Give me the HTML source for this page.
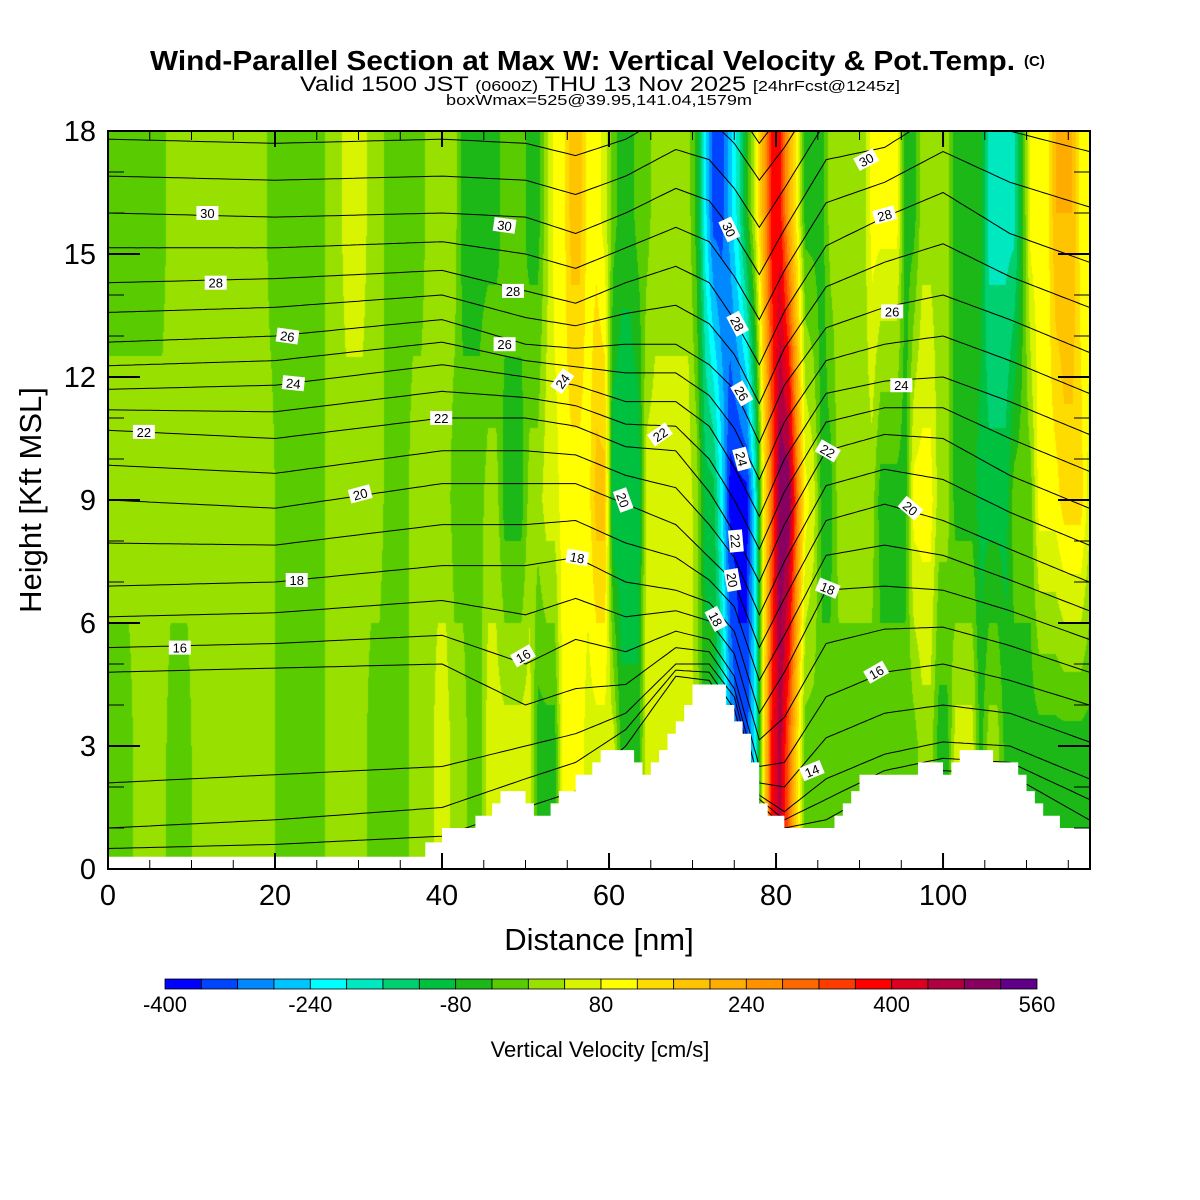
<!DOCTYPE html>
<html><head><meta charset="utf-8">
<style>
html,body{margin:0;padding:0;background:#fff;}
#wrap{position:relative;width:1200px;height:1200px;overflow:hidden;}
#field{position:absolute;left:108px;top:131px;}
svg{position:absolute;left:0;top:0;}
text{font-family:"Liberation Sans",sans-serif;}
</style></head>
<body>
<div id="wrap">
<canvas id="field" width="982" height="738"></canvas>
<svg id="svg" width="1200" height="1200"></svg>
</div>
<script>
// ---- data ----
const binEdges = [-400,-360,-320,-280,-240,-200,-160,-120,-80,-40,0,40,80,120,160,200,240,280,320,360,400,440,480,520,560];
const binColors = ["#0000ff","#0044ff","#0088ff","#00c4ff","#00ffff","#00e8c0","#00d070","#00c040","#1cb818","#58cc00","#98e000","#d8f400","#ffff00","#ffdc00","#ffc400","#ffac00","#ff9000","#ff6800","#ff3c00","#ff0000","#dc0020","#b00040","#880060","#600088"];
const cbTickLabels = [-400,-240,-80,80,240,400,560];
const rowHeights = [3,9,16];
function expand(spec){const a=[];spec.forEach(s=>{for(let i=0;i<s[0];i++)a.push(s[1]);});return a;}
const wLow = expand([[3,-20],[4,20],[3,-20],[10,20],[6,-20],[5,20],[5,-20],[3,20],[2,60],[2,20],[2,-20],[6,60],[3,-60],[3,100],[4,60],[3,-60],[6,60],[1,20],[2,-60],[1,-140],[1,-260],[2,-340],[1,-220],[1,100],[1,380],[1,460],[1,300],[1,140],[7,-20],[7,-20],[2,20],[2,-60],[3,60],[1,-60],[2,20],[11,-60]]);
const wMid = expand([[20,20],[6,-20],[7,20],[3,-20],[5,20],[4,-20],[2,20],[3,-60],[2,20],[2,60],[4,100],[2,180],[4,-120],[6,60],[1,20],[2,-100],[1,-220],[3,-380],[1,-220],[1,100],[1,300],[2,520],[1,300],[1,100],[1,60],[2,-60],[5,20],[4,-60],[3,100],[2,20],[3,-60],[4,-100],[3,-20],[3,100],[3,140],[1,60]]);
const wHigh = expand([[7,-20],[12,20],[7,-20],[2,20],[3,60],[2,20],[5,-20],[4,20],[5,-60],[3,-20],[2,-60],[1,20],[2,100],[2,180],[2,100],[1,60],[1,-20],[2,-60],[2,-20],[5,20],[1,-60],[1,-220],[2,-340],[1,-260],[1,-180],[1,-60],[1,60],[1,220],[2,380],[1,220],[1,100],[3,-60],[5,20],[4,100],[2,-60],[4,20],[4,-60],[4,-180],[1,-60],[3,100],[3,200],[2,100]]);
const terrain = expand([[38,0.3],[2,0.65],[4,1.0],[2,1.3],[1,1.6],[3,1.9],[1,1.6],[2,1.3],[1,1.6],[2,1.9],[2,2.3],[1,2.6],[4,2.9],[1,2.6],[1,2.3],[1,2.6],[1,2.9],[1,3.3],[1,3.6],[1,4.0],[4,4.5],[1,4.0],[1,3.6],[1,3.3],[1,2.6],[1,1.6],[2,1.3],[6,1.0],[1,1.3],[1,1.6],[1,1.9],[7,2.3],[3,2.6],[1,2.3],[1,2.6],[4,2.9],[3,2.6],[1,2.3],[1,1.9],[1,1.6],[2,1.3],[4,1.0]]);
const thetaNodesX = [0,20,40,50,56,62,68,72,75,78,81,86,93,100,108,117.5];
const thetaLevels = [12,13,14,15,16,18,20,22,24,26,28,30,32];
const th12=[0.5,0.6,0.8,1.5,1.9,3.0,4.7,4.6,3.6,1.6,1.0,1.2,2.0,2.4,2.3,1.2];
const th13=[1.0,1.2,1.5,2.2,2.6,3.4,4.85,4.8,3.9,1.7,1.2,1.7,2.4,2.7,2.6,1.7];
const th14=[2.1,2.3,2.5,3.0,3.3,3.8,5.0,5.0,4.2,1.8,1.4,2.2,2.8,3.1,3.0,2.2];
const th15=[4.8,4.9,5.0,4.0,4.4,4.5,5.4,5.3,4.4,2.1,2.0,3.2,3.8,4.0,3.8,3.1];
const th16=[5.4,5.5,5.7,5.0,5.6,5.3,5.8,5.6,4.7,2.5,2.6,4.2,4.8,5.0,4.6,4.0];
const th18=[6.9,7.0,7.4,7.4,7.6,7.0,6.8,6.5,5.8,3.8,4.8,6.8,6.9,6.8,6.3,5.6];
const th20=[9.0,8.8,9.4,9.4,9.4,8.9,8.4,7.6,7.0,5.4,6.6,8.5,8.9,8.5,7.8,7.0];
const th22=[10.7,10.5,11.0,11.0,10.8,10.3,10.2,9.2,8.2,7.0,8.4,10.2,10.6,10.5,9.6,8.8];
const th24=[11.7,11.8,12.3,12.0,11.8,11.4,11.4,10.8,9.8,8.6,10.0,11.6,11.9,12.0,11.4,10.6];
const th26=[12.85,13.0,13.4,12.8,12.7,12.8,12.8,12.3,11.7,10.4,11.8,13.2,13.7,14.0,13.4,12.6];
const th28=[14.3,14.4,14.6,14.1,13.8,14.3,14.7,14.3,13.4,12.3,13.6,15.2,15.9,16.5,15.5,14.8];
const th30=[16.0,15.9,16.0,15.9,15.5,16.0,16.6,16.3,15.5,14.5,15.6,17.3,17.6,18.5,18.0,17.5];
const th32=[17.8,17.7,17.8,17.7,17.4,17.8,18.5,18.3,17.7,16.8,17.6,19.2,19.5,20,19.8,19.5];
const labelText = ["30","28","26","24","22","22","20","18","16","30","28","26","24","22","20","18","16","30","28","26","24","22","20","18","14","18","22","20","16","24","26","28","30"];
const labelDist = [11.9,12.9,21.5,22.2,4.3,39.9,30.2,22.6,8.6,47.5,48.5,47.5,54.4,66.1,61.7,56.2,49.7,74.4,75.4,75.9,75.9,75.2,74.8,72.8,84.3,86.2,86.2,96.1,92,95,93.9,93,90.8];
const labelHeight = [16.0,14.3,13.0,11.85,10.66,11.0,9.15,7.05,5.4,15.7,14.1,12.8,11.9,10.6,9.0,7.6,5.2,15.6,13.3,11.6,10.0,8.0,7.05,6.1,2.4,6.85,10.2,8.8,4.8,11.8,13.6,15.95,17.3];
const labelRot = [0,0,8,6,0,0,-15,0,0,8,0,0,-55,-35,70,10,-30,65,62,60,75,85,80,62,-22,22,30,40,-30,0,0,-15,-28];

// ---- axes ----
const X0=108,X1=1090,Y0=869,Y1=131,XMAX=117.6,YMAX=18;
const xs=d=>X0+d*(X1-X0)/XMAX;
const ys=h=>Y0-h*(Y0-Y1)/YMAX;
const NS="http://www.w3.org/2000/svg";
const svg=document.getElementById('svg');
function mk(tag,attrs,parent){const e=document.createElementNS(NS,tag);for(const k in attrs)e.setAttribute(k,attrs[k]);(parent||svg).appendChild(e);return e;}
function binOf(v){let b=Math.floor((v-binEdges[0])/40);return Math.max(0,Math.min(23,b));}

// ---- field ----
(function(){
 const cv=document.getElementById('field');const ctx=cv.getContext('2d');
 const W=cv.width,H=cv.height;const img=ctx.createImageData(W,H);
 const rgb=binColors.map(c=>[parseInt(c.substr(1,2),16),parseInt(c.substr(3,2),16),parseInt(c.substr(5,2),16)]);
 const rows=[wLow,wMid,wHigh];
 function colVal(arr,d){const f=Math.max(0,Math.min(arr.length-1,d-0.5));const i=Math.floor(f);const t=f-i;const j=Math.min(arr.length-1,i+1);return arr[i]*(1-t)+arr[j]*t;}
 for(let px=0;px<W;px++){
  const d=(px+0.5)*XMAX/(X1-X0);
  const v=rows.map(a=>colVal(a,d));
  for(let py=0;py<H;py++){
   const h=(H-py-0.5)*YMAX/(Y0-Y1);
   let val;
   if(h<=rowHeights[0])val=v[0];
   else if(h<=rowHeights[1]){const t=(h-rowHeights[0])/(rowHeights[1]-rowHeights[0]);val=v[0]*(1-t)+v[1]*t;}
   else if(h<=rowHeights[2]){const t=(h-rowHeights[1])/(rowHeights[2]-rowHeights[1]);val=v[1]*(1-t)+v[2]*t;}
   else val=v[2];
   const c=rgb[binOf(val)];const k=(py*W+px)*4;
   img.data[k]=c[0];img.data[k+1]=c[1];img.data[k+2]=c[2];img.data[k+3]=255;
  }
 }
 ctx.putImageData(img,0,0);
})();

// ---- contours ----
const thRows=[th12,th13,th14,th15,th16,th18,th20,th22,th24,th26,th28,th30,th32];
function interpNode(row,d){for(let i=0;i<thetaNodesX.length-1;i++){if(d<=thetaNodesX[i+1]){const t=(d-thetaNodesX[i])/(thetaNodesX[i+1]-thetaNodesX[i]);return row[i]*(1-t)+row[i+1]*t;}}return row[row.length-1];}
function thetaHeight(th,d){
 const n=thetaLevels.length;
 if(th>=thetaLevels[n-1])return interpNode(thRows[n-1],d)+(th-thetaLevels[n-1])*0.9;
 for(let i=0;i<n-1;i++){if(th<=thetaLevels[i+1]){const f=(th-thetaLevels[i])/(thetaLevels[i+1]-thetaLevels[i]);return interpNode(thRows[i],d)*(1-f)+interpNode(thRows[i+1],d)*f;}}
}
const clip=mk('clipPath',{id:'plotclip'});mk('rect',{x:X0,y:Y1,width:X1-X0,height:Y0-Y1},clip);
const cg=mk('g',{'clip-path':'url(#plotclip)'});


for(let th=12;th<=33;th++){
 let pts=[];
 for(let d=0;d<=XMAX;d+=0.5){
  const h=thetaHeight(th,d);
  pts.push(xs(d).toFixed(1)+','+ys(h).toFixed(1));
 }
 const p=mk('polyline',{points:pts.join(' '),fill:'none',stroke:'#000','stroke-width':1},cg);
 
 
}

// ---- terrain ----
let tp=[xs(0)+','+Y0];
for(let i=0;i<terrain.length;i++){const d0=i,d1=Math.min(i+1,XMAX);tp.push(xs(d0).toFixed(1)+','+ys(terrain[i]).toFixed(1));tp.push(xs(d1).toFixed(1)+','+ys(terrain[i]).toFixed(1));}
tp.push(X1+','+Y0);
const terr=mk('polygon',{points:tp.join(' '),fill:'#fff',stroke:'none'},cg);



// ---- contour labels ----
for(let i=0;i<labelText.length;i++){
 const g=mk('g',{transform:`translate(${xs(labelDist[i]).toFixed(1)},${ys(labelHeight[i]).toFixed(1)}) rotate(${labelRot[i]})`});
 
 
 mk('rect',{x:-11,y:-7,width:22,height:14,fill:'#fff'},g);
 const t=mk('text',{x:0,y:5,'text-anchor':'middle','font-size':13,fill:'#000'},g);t.textContent=labelText[i];
}

// ---- frame & ticks ----
const ax=mk('g',{stroke:'#000','stroke-width':2,fill:'none'});


mk('rect',{x:X0,y:Y1,width:X1-X0,height:Y0-Y1},ax);
for(let d=0;d<=115;d+=5){const x=xs(d);const L=d%20===0?16:9;mk('line',{x1:x,y1:Y0,x2:x,y2:Y0-L,'stroke-width':d%20===0?2:1},ax);mk('line',{x1:x,y1:Y1,x2:x,y2:Y1+L,'stroke-width':d%20===0?2:1},ax);}
for(let h=0;h<=18;h++){const y=ys(h);const L=h%3===0?32:16;mk('line',{x1:X0,y1:y,x2:X0+L,y2:y,'stroke-width':h%3===0?2:1},ax);mk('line',{x1:X1,y1:y,x2:X1-L,y2:y,'stroke-width':h%3===0?2:1},ax);}
for(let d=0;d<=100;d+=20){const t=mk('text',{x:xs(d),y:905,'text-anchor':'middle','font-size':29});t.textContent=d;}
for(let h=0;h<=18;h+=3){const t=mk('text',{x:96,y:ys(h)+10,'text-anchor':'end','font-size':29});t.textContent=h;}
let t;
t=mk('text',{x:599,y:950,'text-anchor':'middle','font-size':31});t.textContent='Distance [nm]';
t=mk('text',{x:0,y:0,'text-anchor':'middle','font-size':31,transform:'translate(41,500) rotate(-90)'});t.textContent='Height [Kft MSL]';

// ---- titles ----
t=mk('text',{x:150,y:70,'font-size':28,'font-weight':'bold',textLength:865,lengthAdjust:'spacingAndGlyphs'});t.textContent='Wind-Parallel Section at Max W: Vertical Velocity & Pot.Temp.';
t=mk('text',{x:1024,y:66,'font-size':15,'font-weight':'bold'});t.textContent='(C)';
t=mk('text',{x:300,y:91,'font-size':21,textLength:600,lengthAdjust:'spacingAndGlyphs'});

t.innerHTML='Valid 1500 JST <tspan font-size="15">(0600Z)</tspan> THU 13 Nov 2025 <tspan font-size="15">[24hrFcst@1245z]</tspan>';
t=mk('text',{x:446,y:105,'font-size':15,textLength:306,lengthAdjust:'spacingAndGlyphs'});t.textContent='boxWmax=525@39.95,141.04,1579m';

// ---- colorbar ----
const cbX0=165,cbX1=1037,cbY=979,cbH=10;const bw=(cbX1-cbX0)/binColors.length;
const cb=mk('g',{});
binColors.forEach((c,i)=>{const r=mk('rect',{x:(cbX0+i*bw).toFixed(2),y:cbY,width:bw.toFixed(2),height:cbH,fill:c,stroke:'#000','stroke-width':0.8},cb);});
cbTickLabels.forEach(v=>{const x=cbX0+(v-binEdges[0])/40*bw;const tt=mk('text',{x:x,y:1012,'text-anchor':'middle','font-size':22},cb);tt.textContent=v;});
t=mk('text',{x:600,y:1057,'text-anchor':'middle','font-size':22});t.textContent='Vertical Velocity [cm/s]';
</script>
</body></html>
